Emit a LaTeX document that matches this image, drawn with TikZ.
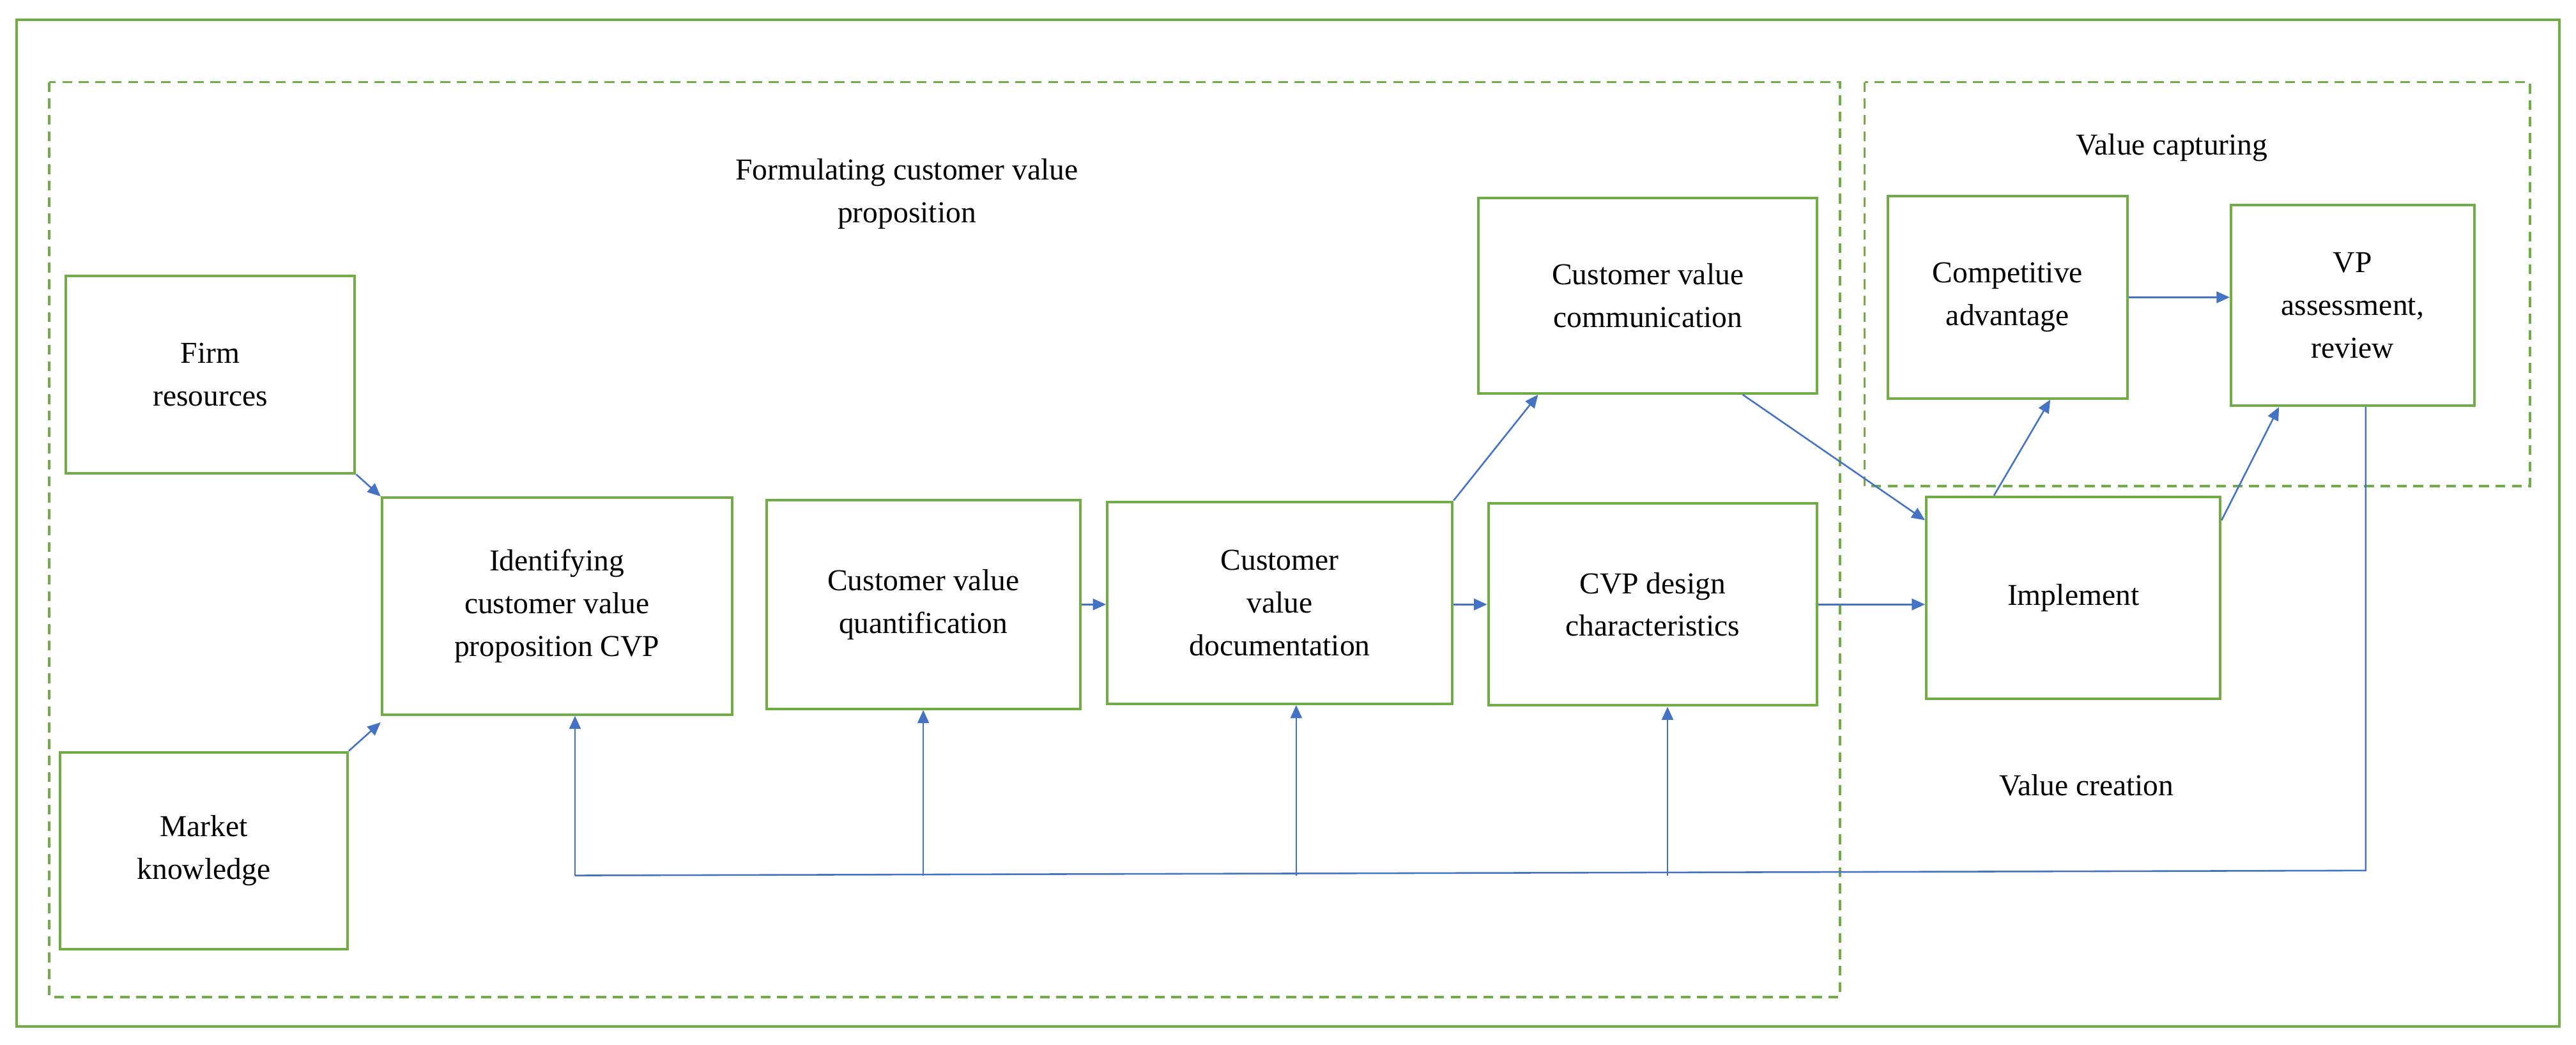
\documentclass[tikz,border=0pt]{standalone}
\usepackage{fontspec}
\setmainfont{Liberation Serif}
\usetikzlibrary{arrows.meta}
\definecolor{boxgreen}{RGB}{112,173,71}
\definecolor{linkblue}{RGB}{68,114,196}
\tikzset{
  box/.style={draw=boxgreen,line width=1.6pt,align=center,inner sep=2pt},
  zone/.style={draw=boxgreen,line width=1.4pt,dash pattern=on 6pt off 4pt},
  link/.style={draw=linkblue,line width=1pt,-{Triangle[length=8pt,width=7pt]}},
  plain/.style={draw=linkblue,line width=1pt},
  every node/.style={font=\fontsize{18.5pt}{26pt}\selectfont}
}
\begin{document}
\begin{tikzpicture}[x=1pt,y=-1pt]
\useasboundingbox (0,0) rectangle (1568,636);
\draw [boxgreen,line width=1.6pt] (10,12) rectangle (1558,625);
\draw [zone] (30,50) rectangle (1120,607);
\draw [zone] (1135,50) rectangle (1540,296);

\node (formtitle) at (552,118) [align=center] {Formulating customer value\\proposition};
\node (captitle) at (1322,90) {Value capturing};
\node (cretitle) at (1270,478) {Value creation};

\node (firm) at (128,228) [box,minimum width=176pt,minimum height=120pt] {Firm\\resources};
\node (market) at (124,518) [box,minimum width=175pt,minimum height=120pt] {Market\\knowledge};
\node (ident) at (339,369) [box,minimum width=213pt,minimum height=132pt] {Identifying\\customer value\\proposition CVP};
\node (quant) at (562,368) [box,minimum width=191pt,minimum height=127pt] {Customer value\\quantification};
\node (doc) at (779,367) [box,minimum width=210pt,minimum height=123pt] {Customer\\value\\documentation};
\node (design) at (1006,368) [box,minimum width=200pt,minimum height=123pt] {CVP design\\characteristics};
\node (comm) at (1003,180) [box,minimum width=206pt,minimum height=119pt] {Customer value\\communication};
\node (compet) at (1222,181) [box,minimum width=146pt,minimum height=123pt] {Competitive\\advantage};
\node (vpass) at (1432,186) [box,minimum width=148pt,minimum height=122pt] {VP\\assessment,\\review};
\node (impl) at (1262,364) [box,minimum width=179pt,minimum height=123pt] {Implement};

\draw [link] (firm.south east) -- (ident.north west);
\draw [link] (market.north east) -- ([yshift=-4pt]ident.south west);
\draw [link] (quant.east) -- (quant.east -| doc.west);
\draw [link] (doc.east |- design.west) -- (design.west);
\draw [link] (doc.north east) -- ([xshift=37pt]comm.south west);
\draw [link] ([xshift=-46pt]comm.south east) -- ([yshift=-15pt]impl.north west);
\draw [link] (design.east) -- (design.east -| impl.west);
\draw [link] ([xshift=42pt]impl.north west) -- ([xshift=26pt]compet.south);
\draw [link] ([yshift=-15pt]impl.north east) -- ([xshift=30pt]vpass.south west);
\draw [link] (compet.east) -- (compet.east -| vpass.west);

\coordinate (fbright) at (1440,530);
\coordinate (fbleft) at (350,533);
\draw [plain] (vpass.south -| fbright) -- (fbright) -- (fbleft);
\draw [link] (fbleft) -- (fbleft |- ident.south);
\draw [link] (quant.south |- fbleft) -- (quant.south);
\draw [link] ([xshift=10pt]doc.south |- fbleft) -- ([xshift=10pt]doc.south);
\draw [link] ([xshift=9pt]design.south |- fbleft) -- ([xshift=9pt]design.south);
\end{tikzpicture}
\end{document}
